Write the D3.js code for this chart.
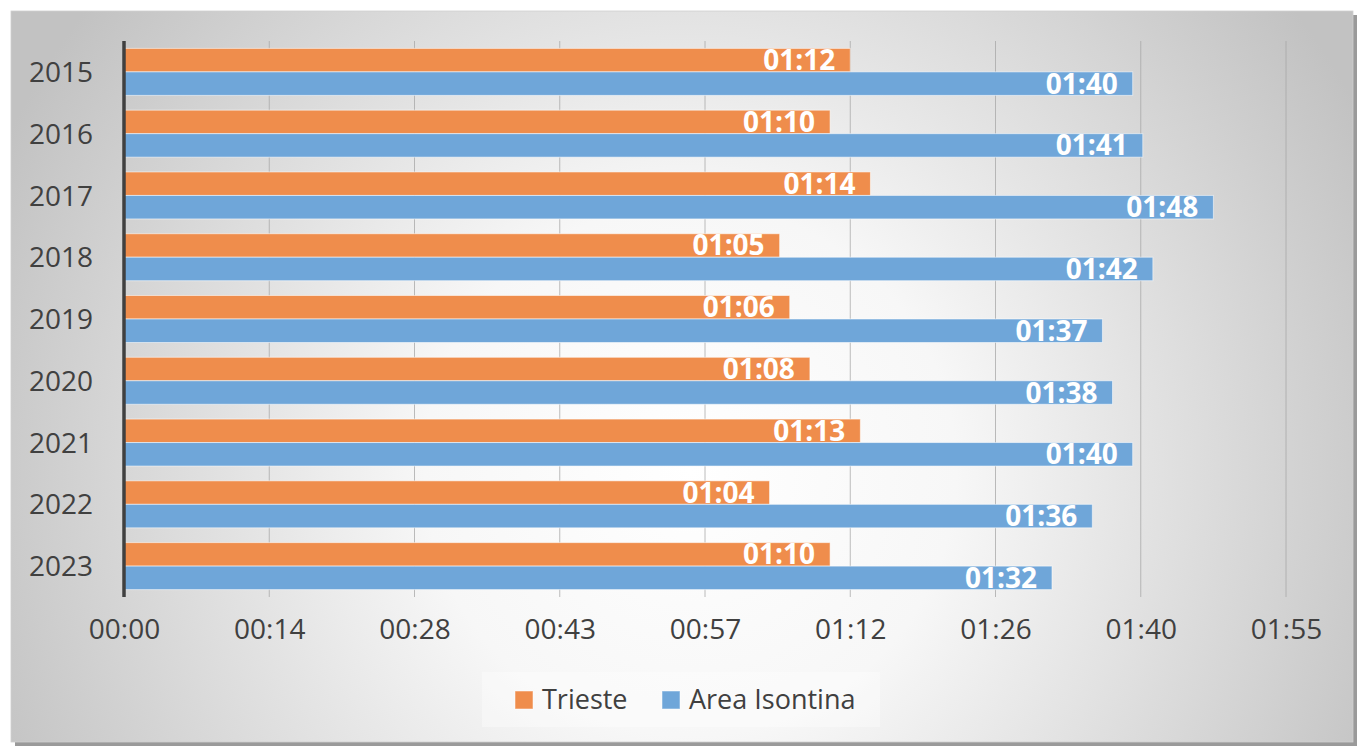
<!DOCTYPE html>
<html>
<head>
<meta charset="utf-8">
<script src="https://cdn.jsdelivr.net/npm/d3@7"></script>
<style>
  body { margin: 0; background: #fff; }
  text { font-family: "Open Sans", sans-serif; }
</style>
</head>
<body>
<script>
// values are minutes (shown as hh:mm like the Excel source)
const years = ["2015", "2016", "2017", "2018", "2019", "2020", "2021", "2022", "2023"];
const series = ["Trieste", "Area Isontina"];
const trieste = [72, 70, 74, 65, 66, 68, 73, 64, 70];
const isontina = [100, 101, 108, 102, 97, 98, 100, 96, 92];
const tickMinutes = [0, 14.4, 28.8, 43.2, 57.6, 72, 86.4, 100.8, 115.2];
const colors = ["#ef8d4c", "#6fa6d9"];

const W = 1363, H = 749;

let data = years.map((y, i) => ({ year: y, values: [trieste[i], isontina[i]] }));

const fmt = m => {
  let t = Math.floor(m + 1e-6);
  return d3.format("02")(Math.floor(t / 60)) + ":" + d3.format("02")(t % 60);
};

const svg = d3.select("body").append("svg")
  .attr("width", W)
  .attr("height", H);

const defs = svg.append("defs");
let grad = defs.append("radialGradient")
  .attr("id", "bg")
  .attr("gradientUnits", "userSpaceOnUse")
  .attr("cx", 690).attr("cy", 470).attr("r", 760);
grad.append("stop").attr("offset", "0%").attr("stop-color", "#ffffff");
grad.append("stop").attr("offset", "35%").attr("stop-color", "#f7f7f7");
grad.append("stop").attr("offset", "100%").attr("stop-color", "#c2c2c2");

// card shadow + card
svg.append("rect")
  .attr("x", 15).attr("y", 15)
  .attr("width", 1342).attr("height", 731)
  .attr("fill", "#9a9a9a");
svg.append("rect")
  .attr("x", 11).attr("y", 11)
  .attr("width", 1342).attr("height", 731)
  .attr("fill", "url(#bg)")
  .attr("stroke", "#d0d0d0").attr("stroke-width", 0.8);

const x = d3.scaleLinear()
  .domain([0, 115.2])
  .range([124, 1286]);

const y = d3.scaleBand()
  .domain(years)
  .range([41, 597])
  .paddingInner(0)
  .paddingOuter(0);

const y1 = d3.scaleBand()
  .domain(series)
  .range([7.4, y.bandwidth() - 7.4])
  .padding(0);

// gridlines
svg.append("g")
  .selectAll("line")
  .data(tickMinutes.slice(1))
  .join("line")
  .attr("x1", d => x(d)).attr("x2", d => x(d))
  .attr("y1", 41).attr("y2", 597)
  .attr("stroke", "#a6a6a6")
  .attr("stroke-opacity", 0.75)
  .attr("stroke-width", 1);

// bars
const groups = svg.append("g")
  .selectAll("g")
  .data(data)
  .join("g")
  .attr("transform", d => `translate(0,${y(d.year)})`);

groups.selectAll("rect")
  .data(d => d.values.map((v, i) => ({ key: series[i], v: v, i: i })))
  .join("rect")
  .attr("x", x(0))
  .attr("y", d => y1(d.key))
  .attr("width", d => x(d.v) - x(0))
  .attr("height", y1.bandwidth())
  .attr("fill", d => colors[d.i])
  .attr("stroke", "#ffffff")
  .attr("stroke-opacity", 0.55)
  .attr("stroke-width", 1);

groups.selectAll("text")
  .data(d => d.values.map((v, i) => ({ key: series[i], v: v, i: i })))
  .join("text")
  .attr("x", d => x(d.v) - 15)
  .attr("y", d => y1(d.key) + y1.bandwidth() / 2 + 10)
  .attr("text-anchor", "end")
  .attr("font-size", "28px")
  .attr("font-weight", "bold")
  .attr("fill", "#ffffff")
  .text(d => fmt(d.v));

// y axis
const yAxis = svg.append("g")
  .attr("transform", "translate(124,0)")
  .call(d3.axisLeft(y).tickSize(0).tickPadding(31));
yAxis.select(".domain").remove();
yAxis.selectAll("text")
  .attr("font-family", "Open Sans, sans-serif")
  .attr("font-size", "28px")
  .attr("fill", "#404040")
  .attr("dy", "0.36em");
svg.append("line")
  .attr("x1", 124).attr("x2", 124)
  .attr("y1", 41).attr("y2", 597)
  .attr("stroke", "#404040")
  .attr("stroke-width", 3.5);

// x axis
const xAxis = svg.append("g")
  .attr("transform", "translate(0,597)")
  .call(d3.axisBottom(x).tickValues(tickMinutes).tickFormat(fmt).tickSize(0).tickPadding(22));
xAxis.select(".domain").remove();
xAxis.selectAll("text")
  .attr("font-family", "Open Sans, sans-serif")
  .attr("font-size", "28px")
  .attr("fill", "#404040");

// legend
const legend = svg.append("g");
legend.append("rect")
  .attr("x", 482).attr("y", 672)
  .attr("width", 398).attr("height", 55)
  .attr("fill", "#ffffff")
  .attr("fill-opacity", 0.35);
const legX = [515, 662];
series.forEach((s, i) => {
  legend.append("rect")
    .attr("x", legX[i]).attr("y", 691)
    .attr("width", 18).attr("height", 18)
    .attr("fill", colors[i])
    .attr("stroke", "#ffffff").attr("stroke-opacity", 0.5);
  legend.append("text")
    .attr("x", legX[i] + 27).attr("y", 709)
    .attr("font-size", "27px")
    .attr("fill", "#404040")
    .text(s);
});
</script>
</body>
</html>
